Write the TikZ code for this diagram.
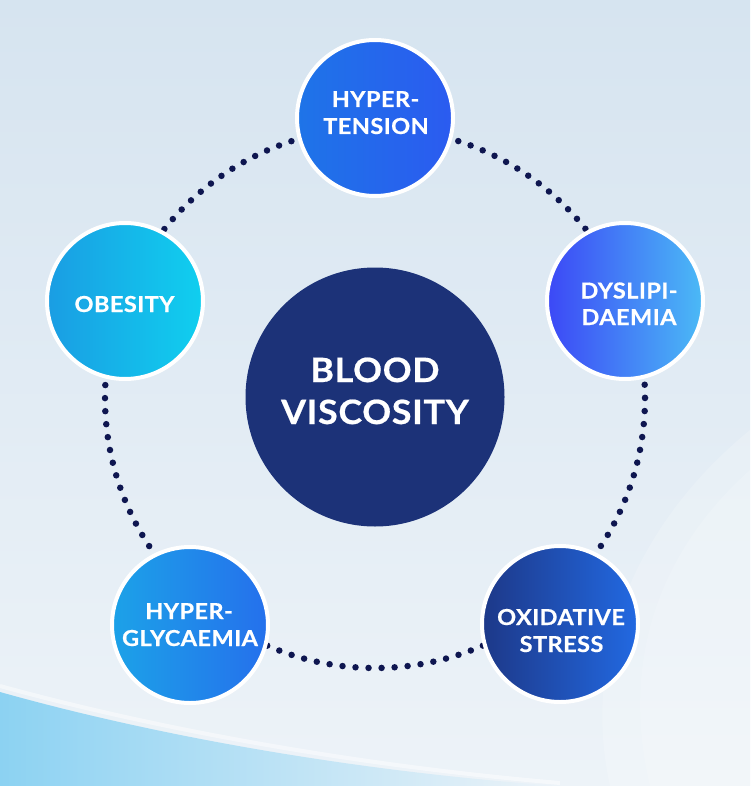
\documentclass[tikz,border=0pt]{standalone}
\usepackage{fontspec}
\newfontfamily\lbl{Lato}[LetterSpace=2.0, FakeStretch=1.07, BoldFeatures={FakeBold=0.6}]
\definecolor{bgtop}{HTML}{D6E4F0}
\definecolor{bgbot}{HTML}{EDF3F8}
\definecolor{band}{HTML}{8CD2F2}
\definecolor{dotc}{HTML}{0E1650}
\definecolor{navy}{HTML}{1C3278}
\definecolor{htL}{HTML}{1E74E8}
\definecolor{htR}{HTML}{2B5BF0}
\definecolor{dyL}{HTML}{3C48F6}
\definecolor{dyR}{HTML}{4BBAF6}
\definecolor{obL}{HTML}{1A9DE3}
\definecolor{obR}{HTML}{10CFEF}
\definecolor{hgL}{HTML}{1CA2E8}
\definecolor{hgR}{HTML}{2570EC}
\definecolor{oxL}{HTML}{1D3888}
\definecolor{oxR}{HTML}{2269E2}
\tikzset{
  outer/.style={circle, minimum size=156pt, inner sep=0pt, draw=white, line width=4pt},
  core/.style={circle, minimum size=259pt, inner sep=0pt, fill=navy},
  ltxt/.style={anchor=base, inner sep=0pt, text=white, font=\lbl\bfseries\fontsize{22}{26}\selectfont},
  ctxt/.style={anchor=base, inner sep=0pt, text=white, font=\lbl\bfseries\fontsize{33.5}{38}\selectfont},
  dotline/.style={dotc, line width=6.5pt, line cap=round, dash pattern=on 0pt off 13.0497pt},
}
\begin{document}
\begin{tikzpicture}[x=1pt,y=-1pt]
% background
\shade[top color=bgtop, bottom color=bgbot] (0,0) rectangle (750,786);
\useasboundingbox (0,0) rectangle (750,786);
\fill[white, opacity=0.18] (750,430) .. controls (640,520) and (580,650) .. (610,786) -- (750,786) -- cycle;
\fill[white, opacity=0.15] (750,470) .. controls (660,550) and (620,660) .. (650,786) -- (750,786) -- cycle;
\shade[left color=band, right color=bgbot] (0,692) .. controls (160,737) and (360,772) .. (560,786) -- (0,786) -- cycle;
\draw[white, opacity=0.45, line width=4pt] (0,686) .. controls (160,730) and (360,766) .. (560,783);
% ring
\coordinate (ring) at (375,398);
\draw[dotline] (ring) circle[radius=270];
% nodes
\node[core] (bv) at (375,397) {};
\node[outer, left color=htL, right color=htR] (ht) at (375,118) {};
\node[outer, left color=dyL, right color=dyR] (dy) at (625,301) {};
\node[outer, left color=obL, right color=obR] (ob) at (125,301) {};
\node[outer, left color=hgL, right color=hgR] (hg) at (190,625) {};
\node[outer, left color=oxL, right color=oxR] (ox) at (560,624) {};
% labels
\node[ctxt] (bv1) at (375,382) {BLOOD};
\node[ctxt] (bv2) at (375,424) {VISCOSITY};
\node[ltxt] (ht1) at (375.5,107) {HYPER-};
\node[ltxt] (ht2) at (376,134) {TENSION};
\node[ltxt] (dy1) at (629,298.5) {DYSLIPI-};
\node[ltxt] (dy2) at (629,325) {DAEMIA};
\node[ltxt] (ob1) at (124.5,312) {OBESITY};
\node[ltxt] (hg1) at (189,619) {HYPER-};
\node[ltxt] (hg2) at (190,646) {GLYCAEMIA};
\node[ltxt] (ox1) at (561,625) {OXIDATIVE};
\node[ltxt] (ox2) at (561.5,652) {STRESS};
\end{tikzpicture}
\end{document}
